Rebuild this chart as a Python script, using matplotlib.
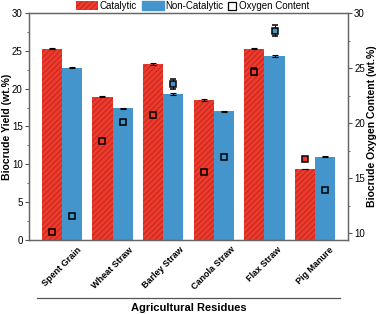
import matplotlib.pyplot as plt
import numpy as np
from matplotlib.patches import Patch
from matplotlib.lines import Line2D

plt.rcParams['font.family'] = ['Liberation Sans', 'DejaVu Sans']
plt.rcParams['hatch.linewidth'] = 0.6

residues = ['Spent Grain', 'Wheat Straw', 'Barley Straw', 'Canola Straw', 'Flax Straw', 'Pig Manure']
yield_cat = [25.3, 18.95, 23.3, 18.5, 25.3, 9.35]
yield_cat_err = [0.1, 0.08, 0.1, 0.08, 0.1, 0.06]
yield_non = [22.8, 17.4, 19.3, 17.0, 24.3, 11.0]
yield_non_err = [0.1, 0.1, 0.1, 0.08, 0.1, 0.05]
oxy_cat = [10.1, 18.4, 20.75, 15.6, 24.7, 16.8]
oxy_cat_err = [0.1, 0.15, 0.3, 0.1, 0.35, 0.15]
oxy_non = [11.6, 20.15, 23.55, 16.95, 28.4, 13.95]
oxy_non_err = [0.1, 0.15, 0.45, 0.1, 0.5, 0.1]

red = '#EE3A2C'
blue = '#4595CD'

fig = plt.figure(figsize=(3.79, 3.14), dpi=100)
ax = fig.add_axes([0.0765, 0.237, 0.8415, 0.721])
x = np.arange(len(residues))
w = 0.4

ax.bar(x - w / 2, yield_cat, w, color=red, edgecolor='#B5251B', linewidth=0, hatch='//////',
       yerr=yield_cat_err, error_kw=dict(ecolor='black', elinewidth=0.8, capsize=2.5, capthick=0.8))
ax.bar(x + w / 2, yield_non, w, color=blue, edgecolor=blue, linewidth=0,
       yerr=yield_non_err, error_kw=dict(ecolor='black', elinewidth=0.8, capsize=2.5, capthick=0.8))
ax.set_xlim(-0.65, 5.65)
ax.set_ylim(0, 30)
ax.set_yticks([0, 5, 10, 15, 20, 25, 30])
ax.set_yticks(np.arange(2.5, 30, 5), minor=True)
ax.set_xticks(x)
ax.set_xticklabels(residues, rotation=45, ha='center', fontsize=6.5, fontweight='bold')
ax.tick_params(axis='x', length=0, pad=4)
ax.tick_params(axis='y', labelsize=7, length=3, color='#555555', pad=1.5)
ax.tick_params(axis='y', which='minor', length=1.5, color='#555555')
ax.set_ylabel('Biocrude Yield (wt.%)', fontsize=7.5, fontweight='bold', va='center')
ax.yaxis.set_label_coords(-0.068, 0.5)

ax2 = ax.twinx()
ax2.set_ylim(9.44, 30)
ax2.set_yticks([10, 15, 20, 25, 30])
ax2.set_yticks(np.arange(12.5, 30, 5), minor=True)
ax2.tick_params(axis='y', labelsize=7, length=3, color='#555555', pad=1.5)
ax2.tick_params(axis='y', which='minor', length=1.5, color='#555555')
ax2.set_ylabel('Biocrude Oxygen Content (wt.%)', fontsize=7.5, fontweight='bold', va='center')
ax2.yaxis.set_label_coords(1.074, 0.5)
ax2.errorbar(x - w / 2, oxy_cat, yerr=oxy_cat_err, fmt='s', ms=4.5, mfc=red, mec='black',
             mew=1.1, ecolor='black', elinewidth=0.8, capsize=2, capthick=0.8)
ax2.errorbar(x + w / 2, oxy_non, yerr=oxy_non_err, fmt='s', ms=4.5, mfc=blue, mec='black',
             mew=1.1, ecolor='black', elinewidth=0.8, capsize=2, capthick=0.8)

for a in (ax, ax2):
    for s in a.spines.values():
        s.set_color('#666666')
        s.set_linewidth(0.9)

# line under category labels
ax.add_line(Line2D([0.025, 0.975], [-0.258, -0.258], transform=ax.transAxes,
                   color='#555555', lw=0.9, clip_on=False))
ax.text(0.5, -0.30, 'Agricultural Residues', transform=ax.transAxes, ha='center', va='center',
        fontsize=8, fontweight='bold')

bar_handles = [Patch(facecolor=red, edgecolor='#B5251B', hatch='//////', linewidth=0),
               Patch(facecolor=blue, edgecolor=blue)]
fig.legend(bar_handles, ['Catalytic', 'Non-Catalytic'], loc='center left',
           bbox_to_anchor=(0.2, 0.981), ncol=2, frameon=False, fontsize=7,
           handlelength=2.25, handleheight=1.05, columnspacing=0.5, handletextpad=0.2,
           borderpad=0, borderaxespad=0)
sq = Line2D([], [], marker='s', ls='none', mfc='white', mec='black', mew=0.9, ms=5.5)
fig.legend([sq], ['Oxygen Content'], loc='center left', bbox_to_anchor=(0.602, 0.981),
           frameon=False, fontsize=7, handlelength=0.8, handletextpad=0.3,
           borderpad=0, borderaxespad=0)

fig.savefig('out.png', dpi=100)
